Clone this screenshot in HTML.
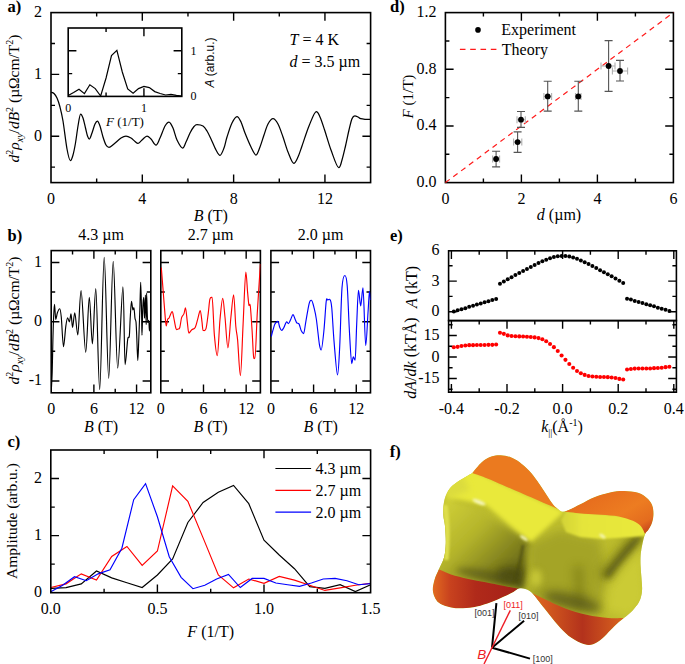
<!DOCTYPE html><html><head><meta charset="utf-8"><style>html,body{margin:0;padding:0;background:#fff;}svg{display:block;}</style></head><body>
<svg width="685" height="664" viewBox="0 0 685 664">
<rect width="685" height="664" fill="#fff"/>
<g>
<rect x="51.00" y="12.60" width="319.60" height="170.00" fill="none" stroke="#000" stroke-width="1.60"/>
<path d="M96.66,182.60v-4.00M96.66,12.60v4.00M142.31,182.60v-8.20M142.31,12.60v8.20M187.97,182.60v-4.00M187.97,12.60v4.00M233.63,182.60v-8.20M233.63,12.60v8.20M279.29,182.60v-4.00M279.29,12.60v4.00M324.94,182.60v-8.20M324.94,12.60v8.20" stroke="#000" stroke-width="1.40" fill="none"/>
<path d="M51.00,167.15h4.00M370.60,167.15h-4.00M51.00,136.24h8.20M370.60,136.24h-8.20M51.00,105.33h4.00M370.60,105.33h-4.00M51.00,74.42h8.20M370.60,74.42h-8.20M51.00,43.51h4.00M370.60,43.51h-4.00" stroke="#000" stroke-width="1.40" fill="none"/>
<text x="51.00" y="203.80" font-size="16" text-anchor="middle" font-family="Liberation Serif" >0</text>
<text x="142.31" y="203.80" font-size="16" text-anchor="middle" font-family="Liberation Serif" >4</text>
<text x="233.63" y="203.80" font-size="16" text-anchor="middle" font-family="Liberation Serif" >8</text>
<text x="324.94" y="203.80" font-size="16" text-anchor="middle" font-family="Liberation Serif" >12</text>
<text x="42.00" y="140.54" font-size="16" text-anchor="end" font-family="Liberation Serif" >0</text>
<text x="42.00" y="78.72" font-size="16" text-anchor="end" font-family="Liberation Serif" >1</text>
<text x="42.00" y="16.90" font-size="16" text-anchor="end" font-family="Liberation Serif" >2</text>
<path d="M51.20,92.20 C51.67,92.42 53.03,92.53 54.00,93.50 C54.97,94.47 56.00,95.75 57.00,98.00 C58.00,100.25 59.00,103.17 60.00,107.00 C61.00,110.83 61.83,114.00 63.00,121.00 C64.17,128.00 65.77,142.40 67.00,149.00 C68.23,155.60 69.40,160.60 70.40,160.60 C71.40,160.60 72.15,157.93 73.00,155.00 C73.85,152.07 74.67,147.83 75.50,143.00 C76.33,138.17 77.15,130.83 78.00,126.00 C78.85,121.17 79.77,114.00 80.60,114.00 C81.43,114.00 82.18,115.67 83.00,118.00 C83.82,120.33 84.75,125.00 85.50,128.00 C86.25,131.00 86.85,134.17 87.50,136.00 C88.15,137.83 88.65,139.00 89.40,139.00 C90.15,139.00 91.07,135.50 92.00,133.00 C92.93,130.50 94.10,126.00 95.00,124.00 C95.90,122.00 96.57,121.00 97.40,121.00 C98.23,121.00 99.07,123.33 100.00,126.00 C100.93,128.67 102.00,133.83 103.00,137.00 C104.00,140.17 105.00,143.27 106.00,145.00 C107.00,146.73 107.67,147.40 109.00,147.40 C110.33,147.40 112.00,145.57 114.00,144.00 C116.00,142.43 119.00,139.33 121.00,138.00 C123.00,136.67 124.33,136.00 126.00,136.00 C127.67,136.00 129.50,137.08 131.00,138.00 C132.50,138.92 133.83,140.60 135.00,141.50 C136.17,142.40 136.83,143.40 138.00,143.40 C139.17,143.40 140.50,141.23 142.00,140.00 C143.50,138.77 145.50,136.00 147.00,136.00 C148.50,136.00 149.50,137.50 151.00,139.00 C152.50,140.50 154.50,145.00 156.00,145.00 C157.50,145.00 158.50,141.17 160.00,138.00 C161.50,134.83 163.50,128.67 165.00,126.00 C166.50,123.33 167.67,122.00 169.00,122.00 C170.33,122.00 171.67,125.00 173.00,128.00 C174.33,131.00 175.40,136.67 177.00,140.00 C178.60,143.33 181.10,148.00 182.60,148.00 C184.10,148.00 184.77,144.50 186.00,142.00 C187.23,139.50 188.67,135.58 190.00,133.00 C191.33,130.42 192.83,127.90 194.00,126.50 C195.17,125.10 195.50,124.60 197.00,124.60 C198.50,124.60 201.33,124.93 203.00,126.00 C204.67,127.07 205.67,128.83 207.00,131.00 C208.33,133.17 209.50,135.83 211.00,139.00 C212.50,142.17 214.50,147.27 216.00,150.00 C217.50,152.73 218.67,155.40 220.00,155.40 C221.33,155.40 222.83,151.07 224.00,148.00 C225.17,144.93 225.67,141.17 227.00,137.00 C228.33,132.83 230.33,126.40 232.00,123.00 C233.67,119.60 235.50,116.60 237.00,116.60 C238.50,116.60 239.67,119.27 241.00,122.00 C242.33,124.73 243.33,128.83 245.00,133.00 C246.67,137.17 249.17,143.33 251.00,147.00 C252.83,150.67 254.50,155.00 256.00,155.00 C257.50,155.00 258.67,150.33 260.00,147.00 C261.33,143.67 262.67,138.83 264.00,135.00 C265.33,131.17 266.50,126.72 268.00,124.00 C269.50,121.28 271.33,118.70 273.00,118.70 C274.67,118.70 276.33,120.95 278.00,124.00 C279.67,127.05 281.33,132.33 283.00,137.00 C284.67,141.67 286.22,147.62 288.00,152.00 C289.78,156.38 292.03,163.30 293.70,163.30 C295.37,163.30 296.62,159.88 298.00,157.00 C299.38,154.12 300.17,151.17 302.00,146.00 C303.83,140.83 306.63,131.75 309.00,126.00 C311.37,120.25 314.37,111.50 316.20,111.50 C318.03,111.50 318.60,113.92 320.00,117.00 C321.40,120.08 322.77,124.50 324.60,130.00 C326.43,135.50 328.65,143.72 331.00,150.00 C333.35,156.28 336.87,167.70 338.70,167.70 C340.35,167.70 340.87,163.62 342.00,160.00 C343.13,156.38 344.33,151.00 345.50,146.00 C346.67,141.00 347.92,134.55 349.00,130.00 C350.08,125.45 351.03,121.07 352.00,118.70 C352.97,116.33 353.80,115.80 354.80,115.80 C355.80,115.80 357.02,116.52 358.00,117.00 C358.98,117.48 359.53,118.32 360.70,118.70 C361.87,119.08 363.42,119.20 365.00,119.30 C366.58,119.40 369.33,119.30 370.20,119.30" fill="none" stroke="#000" stroke-width="1.25"/>
<rect x="68.20" y="28.00" width="113.60" height="68.40" fill="none" stroke="#000" stroke-width="1.60"/>
<path d="M106.07,96.40v-4.00M106.07,28.00v4.00M143.93,96.40v-8.20M143.93,28.00v8.20" stroke="#000" stroke-width="1.40" fill="none"/>
<path d="M68.20,73.60h4.00M181.80,73.60h-4.00M68.20,50.80h8.20M181.80,50.80h-8.20" stroke="#000" stroke-width="1.40" fill="none"/>
<path d="M68.20,95.60 L73.61,92.60 L79.02,89.20 L84.43,93.60 L89.84,84.80 L95.25,88.60 L100.66,96.00 L106.07,78.00 L111.48,55.60 L116.89,50.40 L122.30,72.00 L127.70,89.00 L133.11,93.20 L138.52,88.60 L143.93,86.40 L149.34,87.60 L154.75,91.60 L160.16,93.50 L165.57,95.00 L170.98,94.40 L176.39,95.30 L181.80,96.00" fill="none" stroke="#000" stroke-width="1.2"/>
<text x="68.20" y="112.00" font-size="12" text-anchor="middle" font-family="Liberation Serif" >0</text>
<text x="143.93" y="112.00" font-size="12" text-anchor="middle" font-family="Liberation Serif" >1</text>
<text x="193.50" y="100.40" font-size="12" text-anchor="middle" font-family="Liberation Serif" >0</text>
<text x="193.50" y="54.80" font-size="12" text-anchor="middle" font-family="Liberation Serif" >1</text>
<text x="125.00" y="126.00" font-size="13" text-anchor="middle" font-family="Liberation Serif" ><tspan font-style="italic">F</tspan> (1/T)</text>
<text transform="translate(213.5,62.5) rotate(-90)" font-size="12" text-anchor="middle" font-family="Liberation Sans"><tspan font-style="italic">A</tspan> (arb.u.)</text>
<text x="289.50" y="45.20" font-size="16" text-anchor="start" font-family="Liberation Serif" ><tspan font-style="italic">T</tspan> = 4 K</text>
<text x="289.50" y="66.80" font-size="16" text-anchor="start" font-family="Liberation Serif" ><tspan font-style="italic">d</tspan> = 3.5 µm</text>
<text x="210.80" y="220.50" font-size="16" text-anchor="middle" font-family="Liberation Serif" ><tspan font-style="italic">B</tspan> (T)</text>
<text transform="translate(19.00,98.50) rotate(-90)" font-size="15.5" text-anchor="middle" font-family="Liberation Serif"><tspan font-style="italic">d</tspan><tspan dy="-6" font-size="10">2</tspan><tspan dy="6" font-style="italic">ρ</tspan><tspan dy="4" font-size="10" font-style="italic">xy</tspan><tspan dy="-4">/</tspan><tspan font-style="italic">dB</tspan><tspan dy="-6" font-size="10">2</tspan><tspan dy="6"> (µΩcm/T</tspan><tspan dy="-6" font-size="10">2</tspan><tspan dy="6">)</tspan></text>
<text x="7.50" y="12.40" font-size="16.5" text-anchor="start" font-family="Liberation Serif" font-weight="bold">a)</text>
</g>
<g>
<defs>
<clipPath id="cb0"><rect x="51.20" y="250.60" width="99.60" height="142.20"/></clipPath>
<clipPath id="cb1"><rect x="160.80" y="250.60" width="99.60" height="142.20"/></clipPath>
<clipPath id="cb2"><rect x="270.90" y="250.60" width="99.60" height="142.20"/></clipPath>
</defs>
<rect x="51.20" y="250.60" width="99.60" height="142.20" fill="none" stroke="#000" stroke-width="1.60"/>
<path d="M72.54,392.80v-4.00M72.54,250.60v4.00M93.89,392.80v-8.20M93.89,250.60v8.20M115.23,392.80v-4.00M115.23,250.60v4.00M136.57,392.80v-8.20M136.57,250.60v8.20" stroke="#000" stroke-width="1.40" fill="none"/>
<path d="M51.20,380.95h8.20M150.80,380.95h-8.20M51.20,351.32h4.00M150.80,351.32h-4.00M51.20,321.70h8.20M150.80,321.70h-8.20M51.20,292.07h4.00M150.80,292.07h-4.00M51.20,262.45h8.20M150.80,262.45h-8.20" stroke="#000" stroke-width="1.40" fill="none"/>
<path d="M51.20,392.00 C51.37,388.67 51.92,380.67 52.20,372.00 C52.48,363.33 52.67,349.00 52.90,340.00 C53.13,331.00 53.33,323.97 53.60,318.00 C53.87,312.03 54.13,304.20 54.50,304.20 C54.87,304.20 55.32,319.50 55.80,319.50 C56.28,319.50 56.75,314.60 57.40,312.80 C58.05,311.00 59.05,308.70 59.70,308.70 C60.35,308.70 60.67,310.97 61.30,317.30 C61.93,323.63 62.75,346.70 63.50,346.70 C64.25,346.70 65.12,331.13 65.80,326.30 C66.48,321.47 67.00,317.70 67.60,317.70 C68.20,317.70 68.83,321.80 69.40,321.80 C69.97,321.80 70.47,313.90 71.00,313.90 C71.53,313.90 71.97,327.50 72.60,327.50 C73.23,327.50 73.93,312.80 74.80,312.80 C75.67,312.80 76.75,334.90 77.80,334.90 C78.85,334.90 79.78,290.60 81.10,290.60 C82.42,290.60 84.33,352.30 85.70,352.30 C87.07,352.30 88.18,297.40 89.30,297.40 C90.42,297.40 91.32,343.90 92.40,343.90 C93.48,343.90 94.58,288.60 95.80,288.60 C97.02,288.60 98.30,389.60 99.70,389.60 C101.10,389.60 102.70,257.40 104.20,257.40 C105.70,257.40 107.20,378.30 108.70,378.30 C110.20,378.30 111.70,261.30 113.20,261.30 C114.70,261.30 116.08,368.10 117.70,368.10 C119.32,368.10 121.67,286.80 122.90,286.80 C124.00,286.80 124.30,364.70 125.10,364.70 C125.90,364.70 127.00,344.15 127.70,339.40 C128.40,334.65 128.88,339.72 129.30,336.20 C129.72,332.68 129.83,324.10 130.20,318.30 C130.57,312.50 131.05,301.40 131.50,301.40 C131.95,301.40 132.50,309.90 132.90,309.90 C133.30,309.90 133.55,307.50 133.90,307.50 C134.25,307.50 134.65,315.88 135.00,318.30 C135.35,320.72 135.72,319.18 136.00,322.00 C136.28,324.82 136.40,328.78 136.70,335.20 C137.00,341.62 137.45,360.50 137.80,360.50 C138.15,360.50 138.45,347.80 138.80,339.00 C139.15,330.20 139.58,317.13 139.90,307.70 C140.22,298.27 140.42,282.40 140.70,282.40 C140.98,282.40 141.38,305.30 141.60,314.10 C141.80,322.22 141.80,335.20 142.00,335.20 C142.20,335.20 142.52,314.03 142.80,307.70 C143.08,301.37 143.42,297.20 143.70,297.20 C143.98,297.20 144.22,318.30 144.50,318.30 C144.78,318.30 145.12,295.10 145.40,295.10 C145.68,295.10 146.00,324.60 146.20,324.60 C146.40,324.60 146.40,293.00 146.60,293.00 C146.85,293.00 147.33,322.50 147.70,322.50 C148.07,322.50 148.52,320.40 148.80,320.40 C149.08,320.40 149.17,331.00 149.40,331.00 C149.63,331.00 150.07,323.92 150.20,322.50" fill="none" stroke="#000" stroke-width="1.15" clip-path="url(#cb0)"/>
<text x="51.20" y="413.60" font-size="16" text-anchor="middle" font-family="Liberation Serif" >0</text>
<text x="93.89" y="413.60" font-size="16" text-anchor="middle" font-family="Liberation Serif" >6</text>
<text x="136.57" y="413.60" font-size="16" text-anchor="middle" font-family="Liberation Serif" >12</text>
<text x="101.00" y="431.50" font-size="16" text-anchor="middle" font-family="Liberation Serif" ><tspan font-style="italic">B</tspan> (T)</text>
<text x="101.00" y="239.50" font-size="16" text-anchor="middle" font-family="Liberation Serif" >4.3 µm</text>
<rect x="160.80" y="250.60" width="99.60" height="142.20" fill="none" stroke="#000" stroke-width="1.60"/>
<path d="M182.14,392.80v-4.00M182.14,250.60v4.00M203.49,392.80v-8.20M203.49,250.60v8.20M224.83,392.80v-4.00M224.83,250.60v4.00M246.17,392.80v-8.20M246.17,250.60v8.20" stroke="#000" stroke-width="1.40" fill="none"/>
<path d="M160.80,380.95h8.20M260.40,380.95h-8.20M160.80,351.32h4.00M260.40,351.32h-4.00M160.80,321.70h8.20M260.40,321.70h-8.20M160.80,292.07h4.00M260.40,292.07h-4.00M160.80,262.45h8.20M260.40,262.45h-8.20" stroke="#000" stroke-width="1.40" fill="none"/>
<path d="M161.30,267.60 C161.60,271.37 162.42,281.55 163.10,290.20 C163.78,298.85 164.87,313.55 165.40,319.50 C165.85,324.52 165.93,325.90 166.30,325.90 C166.67,325.90 167.12,320.87 167.60,319.50 C168.08,318.13 168.45,319.02 169.20,317.70 C169.95,316.38 171.35,311.60 172.10,311.60 C172.85,311.60 173.05,314.47 173.70,317.30 C174.35,320.13 175.25,326.65 176.00,328.60 C176.75,330.55 177.57,329.00 178.20,329.00 C178.83,329.00 179.23,329.38 179.80,327.50 C180.37,325.62 180.92,319.97 181.60,317.70 C182.28,315.43 183.25,315.55 183.90,313.90 C184.55,312.25 184.93,307.80 185.50,307.80 C186.07,307.80 186.73,317.58 187.30,321.80 C187.87,326.02 188.15,333.10 188.90,333.10 C189.65,333.10 190.75,330.63 191.80,329.70 C192.85,328.77 194.18,329.38 195.20,327.50 C196.22,325.62 197.07,321.23 197.90,318.40 C198.73,315.57 199.52,310.50 200.20,310.50 C200.88,310.50 201.52,318.48 202.00,321.80 C202.48,325.12 202.55,330.40 203.10,330.40 C203.77,330.40 205.13,331.53 206.00,328.60 C206.87,325.67 207.65,317.70 208.30,312.80 C208.95,307.90 209.27,301.77 209.90,299.20 C210.53,296.63 211.35,297.40 212.10,297.40 C212.85,297.40 213.53,325.68 214.40,335.40 C215.27,345.12 216.37,355.70 217.30,355.70 C218.23,355.70 219.10,329.07 220.00,319.50 C220.90,309.93 221.87,298.30 222.70,298.30 C223.53,298.30 224.13,309.05 225.00,317.30 C225.87,325.55 226.92,347.80 227.90,347.80 C228.88,347.80 229.95,326.15 230.90,317.30 C231.85,308.45 232.78,294.70 233.60,294.70 C234.42,294.70 235.13,318.77 235.80,326.30 C236.47,333.83 236.83,331.68 237.60,339.90 C238.37,348.12 239.48,375.60 240.40,375.60 C241.32,375.60 242.20,341.35 243.10,324.10 C244.00,306.85 245.05,272.10 245.80,272.10 C246.55,272.10 247.08,286.93 247.60,292.40 C248.12,297.87 248.45,302.63 248.90,304.90 C249.35,307.17 249.77,301.68 250.30,306.00 C250.83,310.32 251.57,322.52 252.10,330.80 C252.63,339.08 253.02,351.17 253.50,355.70 C253.98,360.23 254.37,358.00 255.00,358.00 C255.63,358.00 256.40,328.47 257.30,312.80 C258.20,297.13 259.88,272.13 260.40,264.00" fill="none" stroke="#ff0000" stroke-width="1.15" clip-path="url(#cb1)"/>
<text x="160.80" y="413.60" font-size="16" text-anchor="middle" font-family="Liberation Serif" >0</text>
<text x="203.49" y="413.60" font-size="16" text-anchor="middle" font-family="Liberation Serif" >6</text>
<text x="246.17" y="413.60" font-size="16" text-anchor="middle" font-family="Liberation Serif" >12</text>
<text x="210.60" y="431.50" font-size="16" text-anchor="middle" font-family="Liberation Serif" ><tspan font-style="italic">B</tspan> (T)</text>
<text x="210.60" y="239.50" font-size="16" text-anchor="middle" font-family="Liberation Serif" >2.7 µm</text>
<rect x="270.90" y="250.60" width="99.60" height="142.20" fill="none" stroke="#000" stroke-width="1.60"/>
<path d="M292.24,392.80v-4.00M292.24,250.60v4.00M313.59,392.80v-8.20M313.59,250.60v8.20M334.93,392.80v-4.00M334.93,250.60v4.00M356.27,392.80v-8.20M356.27,250.60v8.20" stroke="#000" stroke-width="1.40" fill="none"/>
<path d="M270.90,380.95h8.20M370.50,380.95h-8.20M270.90,351.32h4.00M370.50,351.32h-4.00M270.90,321.70h8.20M370.50,321.70h-8.20M270.90,292.07h4.00M370.50,292.07h-4.00M270.90,262.45h8.20M370.50,262.45h-8.20" stroke="#000" stroke-width="1.40" fill="none"/>
<path d="M271.30,336.50 C271.60,335.37 272.50,331.77 273.10,329.70 C273.70,327.63 274.27,325.42 274.90,324.10 C275.53,322.78 276.33,322.18 276.90,321.80 C277.47,321.42 277.82,320.85 278.30,321.80 C278.78,322.75 279.23,326.07 279.80,327.50 C280.37,328.93 281.02,330.40 281.70,330.40 C282.38,330.40 283.08,328.93 283.90,327.50 C284.72,326.07 285.85,321.80 286.60,321.80 C287.35,321.80 287.72,323.60 288.40,323.60 C289.08,323.60 289.93,321.00 290.70,319.50 C291.47,318.00 292.25,314.60 293.00,314.60 C293.75,314.60 294.57,318.12 295.20,319.50 C295.83,320.88 296.15,322.13 296.80,322.90 C297.45,323.67 298.35,322.78 299.10,324.10 C299.85,325.42 300.55,329.22 301.30,330.80 C302.05,332.38 302.85,333.60 303.60,333.60 C304.35,333.60 304.87,326.85 305.80,321.80 C306.73,316.75 308.25,306.88 309.20,303.30 C310.15,299.72 310.67,300.30 311.50,300.30 C312.33,300.30 313.38,305.10 314.20,308.30 C315.02,311.50 315.53,313.48 316.40,319.50 C317.27,325.52 318.60,339.32 319.40,344.40 C320.20,349.48 320.45,350.00 321.20,350.00 C321.95,350.00 323.07,338.88 323.90,330.80 C324.73,322.72 325.57,306.65 326.20,301.50 C326.83,296.35 327.03,300.17 327.70,299.90 C328.37,299.63 329.52,298.50 330.20,299.90 C330.88,301.30 331.15,301.27 331.80,308.30 C332.45,315.33 333.15,331.00 334.10,342.10 C335.05,353.20 336.57,374.90 337.50,374.90 C338.43,374.90 338.95,361.20 339.70,346.70 C340.45,332.20 341.13,299.77 342.00,287.90 C342.87,276.03 344.03,275.50 344.90,275.50 C345.77,275.50 346.45,276.48 347.20,285.70 C347.95,294.92 348.65,317.82 349.40,330.80 C350.15,343.78 351.05,363.60 351.70,363.60 C352.35,363.60 352.73,356.80 353.30,356.80 C353.87,356.80 354.53,360.20 355.10,360.20 C355.67,360.20 356.13,335.77 356.70,324.10 C357.27,312.43 357.83,290.20 358.50,290.20 C359.17,290.20 359.95,306.00 360.70,306.00 C361.45,306.00 362.17,287.90 363.00,287.90 C363.83,287.90 364.87,345.50 365.70,345.50 C366.53,345.50 367.37,321.83 368.00,312.80 C368.63,303.77 369.08,291.30 369.50,291.30 C369.92,291.30 370.33,298.55 370.50,300.00" fill="none" stroke="#0000ff" stroke-width="1.15" clip-path="url(#cb2)"/>
<text x="270.90" y="413.60" font-size="16" text-anchor="middle" font-family="Liberation Serif" >0</text>
<text x="313.59" y="413.60" font-size="16" text-anchor="middle" font-family="Liberation Serif" >6</text>
<text x="356.27" y="413.60" font-size="16" text-anchor="middle" font-family="Liberation Serif" >12</text>
<text x="320.70" y="431.50" font-size="16" text-anchor="middle" font-family="Liberation Serif" ><tspan font-style="italic">B</tspan> (T)</text>
<text x="320.70" y="239.50" font-size="16" text-anchor="middle" font-family="Liberation Serif" >2.0 µm</text>
<text x="42.00" y="266.85" font-size="16" text-anchor="end" font-family="Liberation Serif" >1</text>
<text x="42.00" y="326.10" font-size="16" text-anchor="end" font-family="Liberation Serif" >0</text>
<text x="42.00" y="385.35" font-size="16" text-anchor="end" font-family="Liberation Serif" >-1</text>
<text transform="translate(19.00,320.50) rotate(-90)" font-size="15.5" text-anchor="middle" font-family="Liberation Serif"><tspan font-style="italic">d</tspan><tspan dy="-6" font-size="10">2</tspan><tspan dy="6" font-style="italic">ρ</tspan><tspan dy="4" font-size="10" font-style="italic">xy</tspan><tspan dy="-4">/</tspan><tspan font-style="italic">dB</tspan><tspan dy="-6" font-size="10">2</tspan><tspan dy="6"> (µΩcm/T</tspan><tspan dy="-6" font-size="10">2</tspan><tspan dy="6">)</tspan></text>
<text x="7.50" y="241.40" font-size="16.5" text-anchor="start" font-family="Liberation Serif" font-weight="bold">b)</text>
</g>
<g>
<defs><clipPath id="cc"><rect x="50.80" y="450.00" width="319.80" height="142.70"/></clipPath></defs>
<path d="M50.80,588.42 L66.03,587.56 L81.26,583.85 L96.49,571.01 L111.71,577.86 L126.94,582.71 L142.17,587.56 L157.40,575.01 L172.63,559.02 L187.86,522.49 L203.09,502.51 L218.31,492.24 L233.54,485.39 L248.77,503.66 L264.00,540.19 L279.23,555.03 L294.46,568.73 L309.69,586.59 L324.91,588.42 L340.14,584.71 L355.37,591.56 L370.60,584.71" fill="none" stroke="#000" stroke-width="1.15" clip-path="url(#cc)"/>
<path d="M50.80,587.56 L66.03,583.85 L81.26,573.86 L96.49,580.14 L111.71,556.45 L126.94,546.47 L142.17,565.30 L157.40,551.03 L172.63,485.96 L187.86,501.37 L203.09,537.90 L218.31,575.01 L233.54,587.85 L248.77,579.00 L264.00,583.28 L279.23,576.43 L294.46,580.14 L309.69,585.28 L324.91,590.42 L340.14,587.85 L355.37,585.28 L370.60,583.28" fill="none" stroke="#ff0000" stroke-width="1.15" clip-path="url(#cc)"/>
<path d="M50.80,591.84 L62.64,585.28 L74.49,576.72 L86.33,580.71 L98.18,573.86 L110.02,569.87 L121.87,548.18 L133.71,499.66 L145.56,483.68 L157.40,516.78 L169.24,556.74 L181.09,577.29 L192.93,588.70 L204.78,585.28 L216.62,579.00 L228.47,574.43 L240.31,587.56 L252.16,578.43 L264.00,578.43 L275.84,583.00 L287.69,584.71 L299.53,586.42 L311.38,583.00 L323.22,579.00 L335.07,578.43 L346.91,580.71 L358.76,584.71 L370.60,583.57" fill="none" stroke="#0000ff" stroke-width="1.15" clip-path="url(#cc)"/>
<rect x="50.80" y="450.00" width="319.80" height="142.70" fill="none" stroke="#000" stroke-width="1.60"/>
<path d="M104.10,592.70v-4.00M104.10,450.00v4.00M157.40,592.70v-8.20M157.40,450.00v8.20M210.70,592.70v-4.00M210.70,450.00v4.00M264.00,592.70v-8.20M264.00,450.00v8.20M317.30,592.70v-4.00M317.30,450.00v4.00" stroke="#000" stroke-width="1.40" fill="none"/>
<path d="M50.80,564.16h4.00M370.60,564.16h-4.00M50.80,535.62h8.20M370.60,535.62h-8.20M50.80,507.08h4.00M370.60,507.08h-4.00M50.80,478.54h8.20M370.60,478.54h-8.20" stroke="#000" stroke-width="1.40" fill="none"/>
<text x="50.80" y="613.90" font-size="16" text-anchor="middle" font-family="Liberation Serif" >0.0</text>
<text x="157.40" y="613.90" font-size="16" text-anchor="middle" font-family="Liberation Serif" >0.5</text>
<text x="264.00" y="613.90" font-size="16" text-anchor="middle" font-family="Liberation Serif" >1.0</text>
<text x="370.60" y="613.90" font-size="16" text-anchor="middle" font-family="Liberation Serif" >1.5</text>
<text x="42.00" y="597.10" font-size="16" text-anchor="end" font-family="Liberation Serif" >0</text>
<text x="42.00" y="540.02" font-size="16" text-anchor="end" font-family="Liberation Serif" >1</text>
<text x="42.00" y="482.94" font-size="16" text-anchor="end" font-family="Liberation Serif" >2</text>
<text x="210.70" y="636.50" font-size="16" text-anchor="middle" font-family="Liberation Serif" ><tspan font-style="italic">F</tspan> (1/T)</text>
<text transform="translate(16.8,521) rotate(-90)" font-size="15.5" text-anchor="middle" font-family="Liberation Serif">Amplitude (arb.u.)</text>
<path d="M275.4,468.50H311.1" stroke="#000" stroke-width="1.15"/>
<text x="315.50" y="474.00" font-size="16" text-anchor="start" font-family="Liberation Serif" >4.3 µm</text>
<path d="M275.4,490.30H311.1" stroke="#ff0000" stroke-width="1.15"/>
<text x="315.50" y="495.80" font-size="16" text-anchor="start" font-family="Liberation Serif" >2.7 µm</text>
<path d="M275.4,512.10H311.1" stroke="#0000ff" stroke-width="1.15"/>
<text x="315.50" y="517.60" font-size="16" text-anchor="start" font-family="Liberation Serif" >2.0 µm</text>
<text x="7.50" y="446.60" font-size="16.5" text-anchor="start" font-family="Liberation Serif" font-weight="bold">c)</text>
</g>
<g>
<rect x="445.40" y="12.60" width="228.00" height="170.00" fill="none" stroke="#000" stroke-width="1.60"/>
<path d="M483.40,182.60v-4.00M483.40,12.60v4.00M521.40,182.60v-8.20M521.40,12.60v8.20M559.40,182.60v-4.00M559.40,12.60v4.00M597.40,182.60v-8.20M597.40,12.60v8.20M635.40,182.60v-4.00M635.40,12.60v4.00" stroke="#000" stroke-width="1.40" fill="none"/>
<path d="M445.40,154.27h4.00M673.40,154.27h-4.00M445.40,125.93h8.20M673.40,125.93h-8.20M445.40,97.60h4.00M673.40,97.60h-4.00M445.40,69.27h8.20M673.40,69.27h-8.20M445.40,40.93h4.00M673.40,40.93h-4.00" stroke="#000" stroke-width="1.40" fill="none"/>
<text x="445.40" y="203.80" font-size="16" text-anchor="middle" font-family="Liberation Serif" >0</text>
<text x="521.40" y="203.80" font-size="16" text-anchor="middle" font-family="Liberation Serif" >2</text>
<text x="597.40" y="203.80" font-size="16" text-anchor="middle" font-family="Liberation Serif" >4</text>
<text x="673.40" y="203.80" font-size="16" text-anchor="middle" font-family="Liberation Serif" >6</text>
<text x="436.50" y="187.00" font-size="16" text-anchor="end" font-family="Liberation Serif" >0.0</text>
<text x="436.50" y="130.33" font-size="16" text-anchor="end" font-family="Liberation Serif" >0.4</text>
<text x="436.50" y="73.67" font-size="16" text-anchor="end" font-family="Liberation Serif" >0.8</text>
<text x="436.50" y="17.00" font-size="16" text-anchor="end" font-family="Liberation Serif" >1.2</text>
<text x="559.00" y="219.50" font-size="16" text-anchor="middle" font-family="Liberation Serif" ><tspan font-style="italic">d</tspan> (µm)</text>
<text transform="translate(412.5,96.5) rotate(-90)" font-size="15" text-anchor="middle" font-family="Liberation Serif"><tspan font-style="italic">F</tspan> (1/T)</text>
<path d="M445.40,182.60L673.40,12.60" stroke="#ff1a1a" stroke-width="1.2" stroke-dasharray="5.4,4.4" fill="none"/>
<path d="M492.60,159.00H499.60M492.60,159.00v-3.5v7M499.60,159.00v-3.5v7" stroke="#b0b0b0" stroke-width="1.1" fill="none"/>
<path d="M496.10,151.20V166.90M492.10,151.20h8M492.10,166.90h8" stroke="#555" stroke-width="1.1" fill="none"/>
<circle cx="496.10" cy="159.00" r="2.9" fill="#000"/>
<path d="M513.60,142.10H521.80M513.60,142.10v-3.5v7M521.80,142.10v-3.5v7" stroke="#b0b0b0" stroke-width="1.1" fill="none"/>
<path d="M517.60,131.90V152.40M513.60,131.90h8M513.60,152.40h8" stroke="#555" stroke-width="1.1" fill="none"/>
<circle cx="517.60" cy="142.10" r="2.9" fill="#000"/>
<path d="M517.00,119.70H525.30M517.00,119.70v-3.5v7M525.30,119.70v-3.5v7" stroke="#b0b0b0" stroke-width="1.1" fill="none"/>
<path d="M521.00,111.50V127.40M517.00,111.50h8M517.00,127.40h8" stroke="#555" stroke-width="1.1" fill="none"/>
<circle cx="521.00" cy="119.70" r="2.9" fill="#000"/>
<path d="M543.90,96.40H551.60M543.90,96.40v-3.5v7M551.60,96.40v-3.5v7" stroke="#b0b0b0" stroke-width="1.1" fill="none"/>
<path d="M547.70,81.20V111.10M543.70,81.20h8M543.70,111.10h8" stroke="#555" stroke-width="1.1" fill="none"/>
<circle cx="547.70" cy="96.40" r="2.9" fill="#000"/>
<path d="M575.50,96.40H581.00M575.50,96.40v-3.5v7M581.00,96.40v-3.5v7" stroke="#b0b0b0" stroke-width="1.1" fill="none"/>
<path d="M578.30,81.20V111.10M574.30,81.20h8M574.30,111.10h8" stroke="#555" stroke-width="1.1" fill="none"/>
<circle cx="578.30" cy="96.40" r="2.9" fill="#000"/>
<path d="M601.00,66.00H615.00M601.00,66.00v-3.5v7M615.00,66.00v-3.5v7" stroke="#b0b0b0" stroke-width="1.1" fill="none"/>
<path d="M608.60,40.60V91.40M604.60,40.60h8M604.60,91.40h8" stroke="#555" stroke-width="1.1" fill="none"/>
<circle cx="608.60" cy="66.00" r="2.9" fill="#000"/>
<path d="M612.40,71.00H627.60M612.40,71.00v-3.5v7M627.60,71.00v-3.5v7" stroke="#b0b0b0" stroke-width="1.1" fill="none"/>
<path d="M620.00,60.40V81.00M616.00,60.40h8M616.00,81.00h8" stroke="#555" stroke-width="1.1" fill="none"/>
<circle cx="620.00" cy="71.00" r="2.9" fill="#000"/>
<circle cx="478" cy="29.9" r="2.8" fill="#000"/>
<text x="501.30" y="35.20" font-size="16" text-anchor="start" font-family="Liberation Serif" >Experiment</text>
<path d="M459.9,49.4H497" stroke="#ff1a1a" stroke-width="1.2" stroke-dasharray="5.6,4.7"/>
<text x="501.80" y="55.00" font-size="16" text-anchor="start" font-family="Liberation Serif" >Theory</text>
<text x="390.00" y="12.40" font-size="16.5" text-anchor="start" font-family="Liberation Serif" font-weight="bold">d)</text>
</g>
<g>
<rect x="448.60" y="250.80" width="227.80" height="69.80" fill="none" stroke="#000" stroke-width="1.60"/>
<rect x="448.60" y="320.60" width="227.80" height="71.60" fill="none" stroke="#000" stroke-width="1.60"/>
<path d="M451.40,250.80v8.20M479.20,250.80v4.00M507.00,250.80v8.20M534.80,250.80v4.00M562.60,250.80v8.20M590.40,250.80v4.00M618.20,250.80v8.20M646.00,250.80v4.00M673.80,250.80v8.20" stroke="#000" stroke-width="1.40" fill="none"/>
<path d="M451.40,392.20v-8.20M451.40,320.60v8.20M479.20,392.20v-4.00M479.20,320.60v4.00M507.00,392.20v-8.20M507.00,320.60v8.20M534.80,392.20v-4.00M534.80,320.60v4.00M562.60,392.20v-8.20M562.60,320.60v8.20M590.40,392.20v-4.00M590.40,320.60v4.00M618.20,392.20v-8.20M618.20,320.60v8.20M646.00,392.20v-4.00M646.00,320.60v4.00M673.80,392.20v-8.20M673.80,320.60v8.20" stroke="#000" stroke-width="1.40" fill="none"/>
<path d="M448.60,311.70h8.20M676.40,311.70h-8.20M448.60,296.40h4.00M676.40,296.40h-4.00M448.60,281.10h8.20M676.40,281.10h-8.20M448.60,265.80h4.00M676.40,265.80h-4.00" stroke="#000" stroke-width="1.40" fill="none"/>
<path d="M448.60,389.18h4.00M676.40,389.18h-4.00M448.60,378.45h8.20M676.40,378.45h-8.20M448.60,367.73h4.00M676.40,367.73h-4.00M448.60,357.00h8.20M676.40,357.00h-8.20M448.60,346.27h4.00M676.40,346.27h-4.00M448.60,335.55h8.20M676.40,335.55h-8.20M448.60,324.82h4.00M676.40,324.82h-4.00" stroke="#000" stroke-width="1.40" fill="none"/>
<g fill="#000"><circle cx="453.79" cy="311.50" r="2.0"/><circle cx="457.64" cy="310.17" r="2.0"/><circle cx="461.49" cy="309.25" r="2.0"/><circle cx="465.34" cy="308.13" r="2.0"/><circle cx="469.19" cy="306.70" r="2.0"/><circle cx="473.04" cy="305.68" r="2.0"/><circle cx="476.89" cy="304.56" r="2.0"/><circle cx="480.74" cy="303.44" r="2.0"/><circle cx="484.59" cy="302.32" r="2.0"/><circle cx="488.44" cy="301.30" r="2.0"/><circle cx="492.29" cy="299.97" r="2.0"/><circle cx="496.14" cy="299.05" r="2.0"/><circle cx="499.99" cy="283.85" r="2.0"/><circle cx="503.84" cy="281.50" r="2.0"/><circle cx="507.70" cy="279.28" r="2.0"/><circle cx="511.55" cy="277.17" r="2.0"/><circle cx="515.40" cy="275.10" r="2.0"/><circle cx="519.25" cy="273.05" r="2.0"/><circle cx="523.10" cy="271.02" r="2.0"/><circle cx="526.95" cy="268.99" r="2.0"/><circle cx="530.80" cy="266.99" r="2.0"/><circle cx="534.65" cy="265.03" r="2.0"/><circle cx="538.50" cy="263.12" r="2.0"/><circle cx="542.35" cy="261.31" r="2.0"/><circle cx="546.20" cy="259.65" r="2.0"/><circle cx="550.05" cy="258.22" r="2.0"/><circle cx="553.90" cy="257.08" r="2.0"/><circle cx="557.75" cy="256.29" r="2.0"/><circle cx="561.60" cy="255.91" r="2.0"/><circle cx="565.45" cy="256.05" r="2.0"/><circle cx="569.30" cy="256.61" r="2.0"/><circle cx="573.15" cy="257.57" r="2.0"/><circle cx="577.00" cy="258.87" r="2.0"/><circle cx="580.85" cy="260.44" r="2.0"/><circle cx="584.70" cy="262.21" r="2.0"/><circle cx="588.55" cy="264.11" r="2.0"/><circle cx="592.40" cy="266.09" r="2.0"/><circle cx="596.25" cy="268.10" r="2.0"/><circle cx="600.10" cy="270.14" r="2.0"/><circle cx="603.95" cy="272.20" r="2.0"/><circle cx="607.80" cy="274.26" r="2.0"/><circle cx="611.65" cy="276.34" r="2.0"/><circle cx="615.50" cy="278.47" r="2.0"/><circle cx="619.35" cy="280.67" r="2.0"/><circle cx="623.20" cy="282.94" r="2.0"/><circle cx="627.05" cy="298.64" r="2.0"/><circle cx="630.90" cy="299.56" r="2.0"/><circle cx="634.75" cy="300.89" r="2.0"/><circle cx="638.61" cy="301.91" r="2.0"/><circle cx="642.46" cy="303.03" r="2.0"/><circle cx="646.31" cy="304.15" r="2.0"/><circle cx="650.16" cy="305.27" r="2.0"/><circle cx="654.01" cy="306.29" r="2.0"/><circle cx="657.86" cy="307.72" r="2.0"/><circle cx="661.71" cy="308.84" r="2.0"/><circle cx="665.56" cy="309.76" r="2.0"/><circle cx="669.41" cy="311.09" r="2.0"/></g>
<g fill="#ff0000"><circle cx="453.79" cy="347.28" r="2.05"/><circle cx="457.64" cy="346.85" r="2.05"/><circle cx="461.49" cy="345.99" r="2.05"/><circle cx="465.34" cy="345.56" r="2.05"/><circle cx="469.19" cy="345.13" r="2.05"/><circle cx="473.04" cy="345.13" r="2.05"/><circle cx="476.89" cy="344.99" r="2.05"/><circle cx="480.74" cy="344.99" r="2.05"/><circle cx="484.59" cy="344.99" r="2.05"/><circle cx="488.44" cy="344.85" r="2.05"/><circle cx="492.29" cy="344.85" r="2.05"/><circle cx="496.14" cy="344.56" r="2.05"/><circle cx="499.99" cy="332.69" r="2.05"/><circle cx="503.84" cy="333.83" r="2.05"/><circle cx="507.70" cy="335.41" r="2.05"/><circle cx="511.55" cy="335.98" r="2.05"/><circle cx="515.40" cy="336.26" r="2.05"/><circle cx="519.25" cy="336.41" r="2.05"/><circle cx="523.10" cy="336.55" r="2.05"/><circle cx="526.95" cy="336.69" r="2.05"/><circle cx="530.80" cy="336.98" r="2.05"/><circle cx="534.65" cy="337.41" r="2.05"/><circle cx="538.50" cy="338.12" r="2.05"/><circle cx="542.35" cy="339.27" r="2.05"/><circle cx="546.20" cy="341.27" r="2.05"/><circle cx="550.05" cy="343.99" r="2.05"/><circle cx="553.90" cy="347.13" r="2.05"/><circle cx="557.75" cy="350.99" r="2.05"/><circle cx="561.60" cy="355.43" r="2.05"/><circle cx="565.45" cy="359.86" r="2.05"/><circle cx="569.30" cy="364.01" r="2.05"/><circle cx="573.15" cy="367.73" r="2.05"/><circle cx="577.00" cy="371.01" r="2.05"/><circle cx="580.85" cy="373.30" r="2.05"/><circle cx="584.70" cy="374.88" r="2.05"/><circle cx="588.55" cy="376.02" r="2.05"/><circle cx="592.40" cy="376.45" r="2.05"/><circle cx="596.25" cy="376.73" r="2.05"/><circle cx="600.10" cy="376.95" r="2.05"/><circle cx="603.95" cy="377.02" r="2.05"/><circle cx="607.80" cy="377.16" r="2.05"/><circle cx="611.65" cy="377.45" r="2.05"/><circle cx="615.50" cy="378.02" r="2.05"/><circle cx="619.35" cy="378.88" r="2.05"/><circle cx="623.20" cy="379.45" r="2.05"/><circle cx="627.05" cy="369.44" r="2.05"/><circle cx="630.90" cy="369.01" r="2.05"/><circle cx="634.75" cy="368.58" r="2.05"/><circle cx="638.61" cy="368.44" r="2.05"/><circle cx="642.46" cy="368.44" r="2.05"/><circle cx="646.31" cy="368.44" r="2.05"/><circle cx="650.16" cy="368.44" r="2.05"/><circle cx="654.01" cy="368.15" r="2.05"/><circle cx="657.86" cy="368.01" r="2.05"/><circle cx="661.71" cy="367.73" r="2.05"/><circle cx="665.56" cy="367.15" r="2.05"/><circle cx="669.41" cy="366.80" r="2.05"/></g>
<text x="451.40" y="413.80" font-size="16" text-anchor="middle" font-family="Liberation Serif" >-0.4</text>
<text x="507.00" y="413.80" font-size="16" text-anchor="middle" font-family="Liberation Serif" >-0.2</text>
<text x="562.60" y="413.80" font-size="16" text-anchor="middle" font-family="Liberation Serif" >0.0</text>
<text x="618.20" y="413.80" font-size="16" text-anchor="middle" font-family="Liberation Serif" >0.2</text>
<text x="673.80" y="413.80" font-size="16" text-anchor="middle" font-family="Liberation Serif" >0.4</text>
<text x="439.50" y="316.30" font-size="16" text-anchor="end" font-family="Liberation Serif" >0</text>
<text x="439.50" y="285.70" font-size="16" text-anchor="end" font-family="Liberation Serif" >3</text>
<text x="439.50" y="255.10" font-size="16" text-anchor="end" font-family="Liberation Serif" >6</text>
<text x="439.50" y="340.15" font-size="16" text-anchor="end" font-family="Liberation Serif" >15</text>
<text x="439.50" y="361.60" font-size="16" text-anchor="end" font-family="Liberation Serif" >0</text>
<text x="439.50" y="383.05" font-size="16" text-anchor="end" font-family="Liberation Serif" >-15</text>
<text transform="translate(417,287) rotate(-90)" font-size="16" text-anchor="middle" font-family="Liberation Serif"><tspan font-style="italic">A</tspan> (kT)</text>
<text transform="translate(415.5,358) rotate(-90)" font-size="16" text-anchor="middle" font-family="Liberation Serif"><tspan font-style="italic">dA</tspan>/<tspan font-style="italic">dk</tspan> (kTÅ)</text>
<text x="562" y="432" font-size="16" text-anchor="middle" font-family="Liberation Serif"><tspan font-style="italic">k</tspan><tspan dy="4" font-size="10">||</tspan><tspan dy="-4">(Å</tspan><tspan dy="-6.5" font-size="10">-1</tspan><tspan dy="6.5">)</tspan></text>
<text x="390.00" y="241.40" font-size="16.5" text-anchor="start" font-family="Liberation Serif" font-weight="bold">e)</text>
</g>
<g>
<text x="389.80" y="457.40" font-size="16.5" text-anchor="start" font-family="Liberation Serif" font-weight="bold">f)</text>
<defs><clipPath id="fsil"><path d="M472.30,473.00 C473.87,471.20 478.55,464.95 481.70,462.20 C484.85,459.45 488.03,457.67 491.20,456.50 C494.37,455.33 497.53,455.10 500.70,455.20 C503.87,455.30 507.03,455.93 510.20,457.10 C513.37,458.27 516.53,459.92 519.70,462.20 C522.87,464.48 526.35,467.78 529.20,470.80 C532.05,473.82 534.27,476.83 536.80,480.30 C539.33,483.77 541.87,487.82 544.40,491.60 C546.93,495.38 549.80,500.15 552.00,503.00 C554.20,505.85 555.52,507.28 557.60,508.70 C559.68,510.12 560.72,512.25 564.50,511.50 C568.28,510.75 575.33,506.58 580.30,504.20 C585.27,501.82 589.35,499.17 594.30,497.20 C599.25,495.23 605.03,493.43 610.00,492.40 C614.97,491.37 619.42,490.93 624.10,491.00 C628.78,491.07 634.30,491.63 638.10,492.80 C641.90,493.97 644.57,495.97 646.90,498.00 C649.23,500.03 651.00,502.37 652.10,505.00 C653.20,507.63 653.50,510.87 653.50,513.80 C653.50,516.73 652.92,519.97 652.10,522.60 C651.28,525.23 649.77,527.70 648.60,529.60 C647.43,531.50 646.12,531.67 645.10,534.00 C644.08,536.33 643.23,540.25 642.50,543.60 C641.77,546.95 641.03,550.53 640.70,554.10 C640.37,557.67 640.38,561.10 640.50,565.00 C640.62,568.90 641.15,573.22 641.40,577.50 C641.65,581.78 642.37,586.68 642.00,590.70 C641.63,594.72 640.77,598.32 639.20,601.60 C637.63,604.88 635.15,607.67 632.60,610.40 C630.05,613.13 626.45,615.82 623.90,618.00 C621.35,620.18 619.50,621.50 617.30,623.50 C615.10,625.50 613.25,627.45 610.70,630.00 C608.15,632.55 604.92,636.42 602.00,638.80 C599.08,641.18 596.13,643.38 593.20,644.30 C590.27,645.22 588.05,645.40 584.40,644.30 C580.75,643.20 575.30,640.43 571.30,637.70 C567.30,634.97 564.05,631.73 560.40,627.90 C556.75,624.07 552.68,618.72 549.40,614.70 C546.12,610.68 543.62,607.45 540.70,603.80 C537.78,600.15 534.47,595.28 531.90,592.80 C529.33,590.32 527.48,589.62 525.30,588.90 C523.12,588.18 520.78,588.00 518.80,588.50 C516.82,589.00 516.03,590.47 513.40,591.90 C510.77,593.33 506.75,595.37 503.00,597.10 C499.25,598.83 495.23,600.72 490.90,602.30 C486.57,603.88 481.63,605.60 477.00,606.60 C472.37,607.60 467.43,608.15 463.10,608.30 C458.77,608.45 454.75,608.22 451.00,607.50 C447.25,606.78 443.20,605.45 440.60,604.00 C438.00,602.55 436.70,601.12 435.40,598.80 C434.10,596.48 432.95,593.28 432.80,590.10 C432.65,586.92 433.48,583.17 434.50,579.70 C435.52,576.23 437.30,573.05 438.90,569.30 C440.50,565.55 442.95,561.53 444.10,557.20 C445.25,552.87 445.65,548.50 445.80,543.30 C445.95,538.10 445.42,530.72 445.00,526.00 C444.58,521.28 443.48,518.87 443.30,515.00 C443.12,511.13 443.30,506.43 443.90,502.80 C444.50,499.17 445.38,496.12 446.90,493.20 C448.42,490.28 450.23,487.78 453.00,485.30 C455.77,482.82 460.28,480.35 463.50,478.30 C466.72,476.25 470.83,473.88 472.30,473.00 Z"/></clipPath><filter id="fb3" filterUnits="userSpaceOnUse" x="380" y="430" width="305" height="234"><feGaussianBlur stdDeviation="3"/></filter><filter id="fb5" filterUnits="userSpaceOnUse" x="380" y="430" width="305" height="234"><feGaussianBlur stdDeviation="5"/></filter><filter id="fb1" filterUnits="userSpaceOnUse" x="380" y="430" width="305" height="234"><feGaussianBlur stdDeviation="1.2"/></filter><filter id="fb2" filterUnits="userSpaceOnUse" x="380" y="430" width="305" height="234"><feGaussianBlur stdDeviation="2"/></filter></defs>
<path d="M472.30,473.00 C473.87,471.20 478.55,464.95 481.70,462.20 C484.85,459.45 488.03,457.67 491.20,456.50 C494.37,455.33 497.53,455.10 500.70,455.20 C503.87,455.30 507.03,455.93 510.20,457.10 C513.37,458.27 516.53,459.92 519.70,462.20 C522.87,464.48 526.35,467.78 529.20,470.80 C532.05,473.82 534.27,476.83 536.80,480.30 C539.33,483.77 541.87,487.82 544.40,491.60 C546.93,495.38 549.80,500.15 552.00,503.00 C554.20,505.85 555.52,507.28 557.60,508.70 C559.68,510.12 560.72,512.25 564.50,511.50 C568.28,510.75 575.33,506.58 580.30,504.20 C585.27,501.82 589.35,499.17 594.30,497.20 C599.25,495.23 605.03,493.43 610.00,492.40 C614.97,491.37 619.42,490.93 624.10,491.00 C628.78,491.07 634.30,491.63 638.10,492.80 C641.90,493.97 644.57,495.97 646.90,498.00 C649.23,500.03 651.00,502.37 652.10,505.00 C653.20,507.63 653.50,510.87 653.50,513.80 C653.50,516.73 652.92,519.97 652.10,522.60 C651.28,525.23 649.77,527.70 648.60,529.60 C647.43,531.50 646.12,531.67 645.10,534.00 C644.08,536.33 643.23,540.25 642.50,543.60 C641.77,546.95 641.03,550.53 640.70,554.10 C640.37,557.67 640.38,561.10 640.50,565.00 C640.62,568.90 641.15,573.22 641.40,577.50 C641.65,581.78 642.37,586.68 642.00,590.70 C641.63,594.72 640.77,598.32 639.20,601.60 C637.63,604.88 635.15,607.67 632.60,610.40 C630.05,613.13 626.45,615.82 623.90,618.00 C621.35,620.18 619.50,621.50 617.30,623.50 C615.10,625.50 613.25,627.45 610.70,630.00 C608.15,632.55 604.92,636.42 602.00,638.80 C599.08,641.18 596.13,643.38 593.20,644.30 C590.27,645.22 588.05,645.40 584.40,644.30 C580.75,643.20 575.30,640.43 571.30,637.70 C567.30,634.97 564.05,631.73 560.40,627.90 C556.75,624.07 552.68,618.72 549.40,614.70 C546.12,610.68 543.62,607.45 540.70,603.80 C537.78,600.15 534.47,595.28 531.90,592.80 C529.33,590.32 527.48,589.62 525.30,588.90 C523.12,588.18 520.78,588.00 518.80,588.50 C516.82,589.00 516.03,590.47 513.40,591.90 C510.77,593.33 506.75,595.37 503.00,597.10 C499.25,598.83 495.23,600.72 490.90,602.30 C486.57,603.88 481.63,605.60 477.00,606.60 C472.37,607.60 467.43,608.15 463.10,608.30 C458.77,608.45 454.75,608.22 451.00,607.50 C447.25,606.78 443.20,605.45 440.60,604.00 C438.00,602.55 436.70,601.12 435.40,598.80 C434.10,596.48 432.95,593.28 432.80,590.10 C432.65,586.92 433.48,583.17 434.50,579.70 C435.52,576.23 437.30,573.05 438.90,569.30 C440.50,565.55 442.95,561.53 444.10,557.20 C445.25,552.87 445.65,548.50 445.80,543.30 C445.95,538.10 445.42,530.72 445.00,526.00 C444.58,521.28 443.48,518.87 443.30,515.00 C443.12,511.13 443.30,506.43 443.90,502.80 C444.50,499.17 445.38,496.12 446.90,493.20 C448.42,490.28 450.23,487.78 453.00,485.30 C455.77,482.82 460.28,480.35 463.50,478.30 C466.72,476.25 470.83,473.88 472.30,473.00 Z" fill="#bcbc2d"/>
<g clip-path="url(#fsil)">
<defs><linearGradient id="gfl" x1="0" y1="0" x2="1" y2="1"><stop offset="0" stop-color="#d6d63a"/><stop offset="0.4" stop-color="#b4b42b"/><stop offset="0.75" stop-color="#76761b"/><stop offset="1" stop-color="#444410"/></linearGradient><linearGradient id="gtf" x1="0" y1="0" x2="1" y2="0"><stop offset="0" stop-color="#d3d336"/><stop offset="0.25" stop-color="#e5e53b"/><stop offset="1" stop-color="#e9e93c"/></linearGradient></defs>
<path d="M444,496 L476,508 L531,542 L524,590 L436,575 Z" fill="url(#gfl)" filter="url(#fb3)"/>
<path d="M528,545 L560,530 L600,540 L607,578 L600,612 L530,600 Z" fill="#a4a427" filter="url(#fb5)"/>
<path d="M612,560 L641,540 L646,600 L630,618 L606,610 Z" fill="#cbcb34" filter="url(#fb5)"/>
<ellipse cx="536" cy="578" rx="6" ry="9" fill="#cfcf3a" opacity="0.8" filter="url(#fb3)"/>
<path d="M442,505 C445,520 446,540 444,560 L448.5,560 C450.5,540 450,520 447.5,505 Z" fill="#dede4c" filter="url(#fb1)"/>
<ellipse cx="510" cy="574" rx="14" ry="7" fill="#3f3f0e" opacity="0.7" filter="url(#fb5)"/>
<path d="M523,545 C521,558 518,570 515,582" stroke="#4a4a10" stroke-width="3" opacity="0.6" fill="none" filter="url(#fb1)"/>
<path d="M636,538 C626,550 614,562 604,578" stroke="#6e6e18" stroke-width="14" opacity="0.6" fill="none" filter="url(#fb5)"/>
<path d="M641,535 C630,547 617,561 606,577" stroke="#3a3a0c" stroke-width="5" opacity="0.75" fill="none" filter="url(#fb3)"/>
<path d="M578,566 L580,606" stroke="#767618" stroke-width="10" opacity="0.55" filter="url(#fb5)"/>
<ellipse cx="572" cy="602" rx="30" ry="8" fill="#4a4a12" opacity="0.65" filter="url(#fb5)" transform="rotate(14 572 602)"/>
<ellipse cx="486" cy="575" rx="30" ry="5" fill="#4a4a12" opacity="0.5" filter="url(#fb3)" transform="rotate(10 486 575)"/>
<path d="M452,470 L472,470 L564.5,511.5 L531,542 L512,527 L486,505 L447,497 Z" fill="#e9e93b" filter="url(#fb2)"/>
<path d="M441,480 L462,474 L470,490 L447,500 Z" fill="#dcdc3e" filter="url(#fb3)"/>
<path d="M566,511 L648,518 L645,536 L602,539 L580,537 L566,532 L561,520 Z" fill="url(#gtf)" filter="url(#fb1)"/>
<ellipse cx="479" cy="502" rx="7" ry="2" fill="#f4f4b5" filter="url(#fb1)" transform="rotate(22 479 502)"/>
<ellipse cx="524" cy="538" rx="4.5" ry="1.6" fill="#f4f4b5" filter="url(#fb1)" transform="rotate(35 524 538)"/>
<ellipse cx="602.5" cy="536" rx="3.5" ry="1.6" fill="#f4f4b5" filter="url(#fb1)" transform="rotate(35 602.5 536)"/>
<path d="M472.30,473.00 472.30,473.00 C473.87,471.20 478.55,464.95 481.70,462.20 C484.85,459.45 488.03,457.67 491.20,456.50 C494.37,455.33 497.53,455.10 500.70,455.20 C503.87,455.30 507.03,455.93 510.20,457.10 C513.37,458.27 516.53,459.92 519.70,462.20 C522.87,464.48 526.35,467.78 529.20,470.80 C532.05,473.82 534.27,476.83 536.80,480.30 C539.33,483.77 541.87,487.82 544.40,491.60 C546.93,495.38 549.80,500.15 552.00,503.00 C554.20,505.85 555.52,507.28 557.60,508.70 C559.68,510.12 563.35,511.03 564.50,511.50 L564.50,511.50 C563.35,511.03 560.63,509.95 557.60,508.70 C554.57,507.45 550.72,505.90 546.30,504.00 C541.88,502.10 536.17,499.52 531.10,497.30 C526.03,495.08 520.65,492.75 515.90,490.70 C511.15,488.65 507.35,487.05 502.60,485.00 C497.85,482.95 492.45,480.40 487.40,478.40 C482.35,476.40 474.82,473.90 472.30,473.00 Z" fill="#eb7a1f"/>
<defs><linearGradient id="gtr" x1="0" y1="0.2" x2="1" y2="1"><stop offset="0" stop-color="#e4681c"/><stop offset="0.55" stop-color="#ed7c21"/><stop offset="0.8" stop-color="#e46c1e"/><stop offset="1" stop-color="#b8321c"/></linearGradient></defs>
<path d="M564.50,511.50 564.50,511.50 C567.13,510.28 575.33,506.58 580.30,504.20 C585.27,501.82 589.35,499.17 594.30,497.20 C599.25,495.23 605.03,493.43 610.00,492.40 C614.97,491.37 619.42,490.93 624.10,491.00 C628.78,491.07 634.30,491.63 638.10,492.80 C641.90,493.97 644.57,495.97 646.90,498.00 C649.23,500.03 651.00,502.37 652.10,505.00 C653.20,507.63 653.50,510.87 653.50,513.80 C653.50,516.73 652.92,519.97 652.10,522.60 C651.28,525.23 649.77,527.70 648.60,529.60 C647.43,531.50 645.68,533.27 645.10,534.00 L645.10,534.00 C644.37,532.67 642.73,528.20 640.70,526.00 C638.67,523.80 636.55,522.40 632.90,520.80 C629.25,519.20 624.07,517.42 618.80,516.40 C613.53,515.38 607.13,515.13 601.30,514.70 C595.47,514.27 589.93,514.33 583.80,513.80 C577.67,513.27 567.72,511.88 564.50,511.50 Z" fill="url(#gtr)"/>
<defs><linearGradient id="gbr" x1="0" y1="0" x2="1" y2="0"><stop offset="0" stop-color="#e06a1e"/><stop offset="0.55" stop-color="#b3321c"/><stop offset="1" stop-color="#d9641e"/></linearGradient></defs>
<path d="M531.90,592.80 531.90,592.80 C533.37,594.63 537.78,600.15 540.70,603.80 C543.62,607.45 546.12,610.68 549.40,614.70 C552.68,618.72 556.75,624.07 560.40,627.90 C564.05,631.73 567.30,634.97 571.30,637.70 C575.30,640.43 580.75,643.20 584.40,644.30 C588.05,645.40 590.27,645.22 593.20,644.30 C596.13,643.38 599.08,641.18 602.00,638.80 C604.92,636.42 608.15,632.55 610.70,630.00 C613.25,627.45 615.10,625.50 617.30,623.50 C619.50,621.50 622.80,618.92 623.90,618.00 L623.90,618.00 C621.33,618.00 614.72,618.55 608.50,618.00 C602.28,617.45 593.90,616.33 586.60,614.70 C579.30,613.07 572.00,610.93 564.70,608.20 C557.40,605.47 548.27,600.87 542.80,598.30 C537.33,595.73 533.72,593.72 531.90,592.80 Z" fill="url(#gbr)"/>
<defs><linearGradient id="gbl" x1="0" y1="0" x2="1" y2="0"><stop offset="0" stop-color="#e26a20"/><stop offset="0.2" stop-color="#c8421e"/><stop offset="0.5" stop-color="#b02a1a"/><stop offset="1" stop-color="#a52019"/></linearGradient></defs>
<path d="M438.90,569.30 438.90,569.30 C438.17,571.03 435.52,576.23 434.50,579.70 C433.48,583.17 432.65,586.92 432.80,590.10 C432.95,593.28 434.10,596.48 435.40,598.80 C436.70,601.12 438.00,602.55 440.60,604.00 C443.20,605.45 447.25,606.78 451.00,607.50 C454.75,608.22 458.77,608.45 463.10,608.30 C467.43,608.15 472.37,607.60 477.00,606.60 C481.63,605.60 486.57,603.88 490.90,602.30 C495.23,600.72 499.25,598.83 503.00,597.10 C506.75,595.37 510.77,593.33 513.40,591.90 C516.03,590.47 517.90,589.07 518.80,588.50 L518.80,588.50 C518.48,588.48 519.53,588.85 516.90,588.40 C514.27,587.95 508.20,586.82 503.00,585.80 C497.80,584.78 491.48,583.45 485.70,582.30 C479.92,581.15 474.08,580.20 468.30,578.90 C462.52,577.60 455.90,576.10 451.00,574.50 C446.10,572.90 440.92,570.17 438.90,569.30 Z" fill="url(#gbl)"/>
</g>
<path d="M492,647.7L496.4,603.1M492,647.7L524.1,620.7M492,647.7L530,658.6" stroke="#000" stroke-width="2" fill="none"/>
<path d="M484,664L510.3,610.4" stroke="#ee1c25" stroke-width="1.4" fill="none"/>
<text x="474.5" y="616.3" font-size="9" font-family="Liberation Sans" fill="#333">[001]</text>
<text x="503.5" y="608.2" font-size="9" font-family="Liberation Sans" fill="#ee1c25">[011]</text>
<text x="518.5" y="619.3" font-size="9" font-family="Liberation Sans" fill="#333">[010]</text>
<text x="532.7" y="662.3" font-size="9" font-family="Liberation Sans" fill="#333">[100]</text>
<text x="477.3" y="658.6" font-size="13.5" font-family="Liberation Sans" font-style="italic" fill="#ee1c25">B</text>
</g>
</svg></body></html>
